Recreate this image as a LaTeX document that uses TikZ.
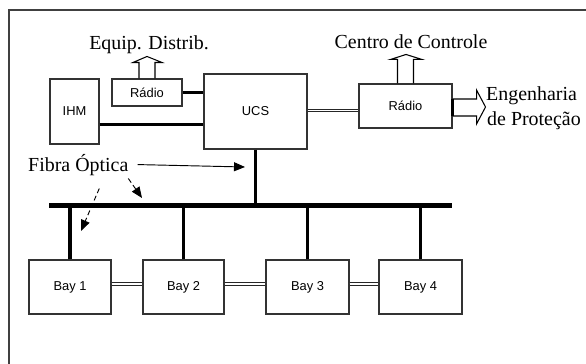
\documentclass[tikz,border=0pt]{standalone}
\usepackage{fontspec}
\setmainfont{Liberation Serif}
\setsansfont{Liberation Sans}
\usetikzlibrary{arrows.meta}

\begin{document}
\begin{tikzpicture}[x=0.03cm,y=-0.03cm,
  box/.style={draw=black!80,line width=0.9pt,fill=white,inner sep=0pt,font=\sffamily\fontsize{11}{12}\selectfont},
  lbl/.style={font=\fontsize{17}{20}\selectfont,inner sep=0pt},
  thickline/.style={line width=2.6pt},
  dline/.style={draw=black!85,double=white,line width=0.9pt,double distance=1.6pt},
  blockarrow/.style={line width=0.9pt,line join=miter},
  pointer/.style={line width=0.8pt,-{Triangle[length=0.33cm,width=0.27cm]}}]
\useasboundingbox (0,0) rectangle (586,364);
\draw[black!75,line width=0.9pt] (9,10) rectangle (600,380);
% boxes
\node[box,minimum width=1.47cm,minimum height=1.95cm] (ihm) at (74.5,111.5) {IHM};
\node[box,minimum width=2.1cm,minimum height=0.81cm] (radA) at (147,92.5) {Rádio};
\node[box,minimum width=3.09cm,minimum height=2.25cm] (ucs) at (255.5,111.5) {UCS};
\node[box,minimum width=2.79cm,minimum height=1.32cm] (radB) at (405.5,106) {Rádio};
\node[box,minimum width=2.46cm,minimum height=1.62cm] (bay1) at (70,287) {Bay 1};
\node[box,minimum width=2.43cm,minimum height=1.62cm] (bay2) at (183.5,287) {Bay 2};
\node[box,minimum width=2.49cm,minimum height=1.62cm] (bay3) at (307.5,287) {Bay 3};
\node[box,minimum width=2.49cm,minimum height=1.62cm] (bay4) at (420.5,287) {Bay 4};
% bus
\node[fill=black,inner sep=0pt,minimum width=12.09cm,minimum height=0.15cm] (bus) at (250.5,205) {};
% labels
\node[lbl,anchor=base] (equip) at (149,49) {Equip. Distrib.};
\node[lbl,anchor=base] (centro) at (411,48) {Centro de Controle};
\node[lbl,anchor=base west] (eng) at (486,100) {Engenharia};
\node[lbl,anchor=base west] (prot) at (487,125) {de Proteção};
\node[lbl,anchor=base west] (fibra) at (28,171) {Fibra Óptica};
% links
\draw[thickline] (radA.east) -- (radA.east -| ucs.west);
\draw[thickline] (ihm.-27) -- (ucs.west |- ihm.-27);
\draw[dline] ([yshift=0.03cm]ucs.east) -- ([yshift=0.03cm]radB.west |- ucs.east);
\draw[thickline] (ucs.south) -- (ucs.south |- bus.center);
\foreach \b in {bay1,bay2,bay3,bay4}
  \draw[thickline] (\b.north) -- (\b.north |- bus.center);
\draw[dline] ([yshift=0.1cm]bay1.east) -- ([yshift=0.1cm]bay2.west);
\draw[dline] ([yshift=0.1cm]bay2.east) -- ([yshift=0.1cm]bay3.west);
\draw[dline] ([yshift=0.1cm]bay3.east) -- ([yshift=0.1cm]bay4.west);
% hollow arrows
\draw[blockarrow] ([xshift=-0.24cm]radA.north) -- ++(0,-16) -- ++(-6,0) -- ++(14,-6)
  -- ++(15,6) -- ++(-7,0) -- ++(0,16);
\draw[blockarrow] ([xshift=-0.24cm]radB.north) -- ++(0,-24) -- ++(-7,0) -- ++(15.5,-5)
  -- ++(16,5) -- ++(-8.5,0) -- ++(0,24);
\draw[blockarrow] ([yshift=0.21cm]radB.east) -- ++(24,0) -- ++(0,-9) -- ++(9,17)
  -- ++(-9,17) -- ++(0,-8) -- ++(-24,0);
\draw[line width=2pt] ([yshift=0.21cm]radB.east) -- ([yshift=-0.3cm]radB.east);
% fibre pointers
\coordinate (fibUcs) at (245,167);
\coordinate (fibDrop) at (81,231);
\coordinate (fibBus) at (142,198);
\draw[pointer] ([xshift=0.27cm]fibra.east) -- (fibUcs);
\draw[pointer,dash pattern=on 0.15cm off 0.09cm] ([xshift=0.63cm,yshift=-0.39cm]fibra.south) -- (fibDrop);
\draw[pointer,dash pattern=on 0.15cm off 0.09cm] ([xshift=1.5cm,yshift=-0.09cm]fibra.south) -- (fibBus);
\end{tikzpicture}
\end{document}
